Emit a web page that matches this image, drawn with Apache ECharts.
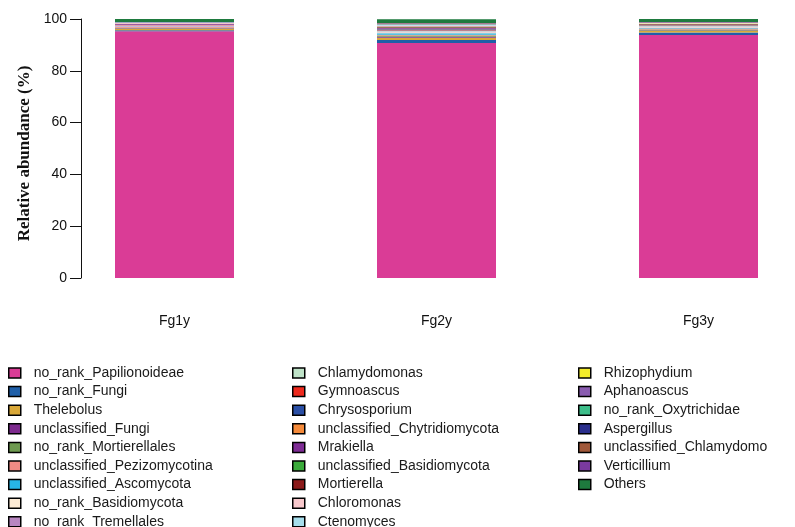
<!DOCTYPE html>
<html>
<head>
<meta charset="utf-8">
<script src="https://cdn.jsdelivr.net/npm/echarts@6/dist/echarts.min.js"></script>
<style>html,body{margin:0;padding:0;background:#fff}#c{width:795px;height:527px}</style>
</head>
<body>
<div id="c"></div>
<script>
const categories = ['Fg1y', 'Fg2y', 'Fg3y'];
const yTicks = [0, 20, 40, 60, 80, 100];
const taxa = [
  'no_rank_Papilionoideae', 'no_rank_Fungi', 'Thelebolus', 'unclassified_Fungi',
  'no_rank_Mortierellales', 'unclassified_Pezizomycotina', 'unclassified_Ascomycota',
  'no_rank_Basidiomycota', 'no_rank_Tremellales', 'Chlamydomonas', 'Gymnoascus',
  'Chrysosporium', 'unclassified_Chytridiomycota', 'Mrakiella', 'unclassified_Basidiomycota',
  'Mortierella', 'Chloromonas', 'Ctenomyces', 'Rhizophydium', 'Aphanoascus',
  'no_rank_Oxytrichidae', 'Aspergillus', 'unclassified_Chlamydomo', 'Verticillium', 'Others'
];
const colors = [
  '#DA3C96', '#1F5FA8', '#D9A838', '#7D2A8E', '#6E9A50', '#F08A84', '#27B5E5',
  '#FCEBD5', '#B886C0', '#BFE3C8', '#EE2A1E', '#2A4FA5', '#F58A3A', '#7E2C94',
  '#3AAA3A', '#8B1A1A', '#F8C8CC', '#A6DDEB', '#F2EB2A', '#8A5CB0', '#3DBE8A',
  '#2A2E8C', '#A0583A', '#7A3AA0', '#1E7A3E'
];
// values per taxon, in category order (Fg1y, Fg2y, Fg3y), percent
const valFg1y = [95.3, 0.4, 0.5, 0.25, 0.15, 0.3, 0.1, 0.15, 0.35, 0.1, 0.05, 0.05, 0.05, 0.3, 0.05, 0.1, 0.25, 0.1, 0.02, 0.08, 0.05, 0.03, 0.03, 0.1, 1.14];
const valFg2y = [90.7, 1.2, 0.9, 0.3, 0.5, 0.3, 0.6, 0.4, 0.3, 0.3, 0.2, 0.3, 0.2, 0.3, 0.2, 0.4, 0.3, 0.3, 0.1, 0.2, 0.1, 0.1, 0.2, 0.1, 1.4];
const valFg3y = [93.8, 1.0, 0.6, 0.2, 0.3, 0.4, 0.2, 0.3, 0.3, 0.2, 0.1, 0.2, 0.1, 0.1, 0.1, 0.2, 0.2, 0.1, 0.05, 0.1, 0.05, 0.05, 0.1, 0.05, 1.2];

const legendCols = [taxa.slice(0, 9), taxa.slice(9, 18), taxa.slice(18)];
const legendLefts = [8, 292, 578];

const chart = echarts.init(document.getElementById('c'), null, {renderer: 'canvas'});
const series = taxa.map((name, i) => ({
  name: name,
  type: 'bar',
  stack: 'total',
  barWidth: 119,
  itemStyle: {color: colors[i]},
  emphasis: {disabled: true},
  data: [valFg1y[i], valFg2y[i], valFg3y[i]]
}));

chart.setOption({
  animation: false,
  backgroundColor: '#fff',
  grid: {left: 43.5, top: 19, width: 786, bottom: 249, containLabel: false, outerBoundsMode: 'none'},
  xAxis: {
    type: 'category',
    data: categories,
    axisLine: {show: false},
    axisTick: {show: false},
    axisLabel: {margin: 36, fontSize: 14, color: '#111', fontFamily: 'Liberation Sans'}
  },
  yAxis: {
    type: 'value',
    min: 0, max: 100, interval: 20,
    offset: -37.5,
    name: 'Relative abundance (%)',
    nameLocation: 'middle',
    nameGap: 31,
    nameTextStyle: {fontFamily: 'Liberation Serif', fontWeight: 'bold', fontSize: 17, color: '#111', padding: [10, 10, 0, 0]},
    axisLine: {show: true, lineStyle: {color: '#111', width: 1}},
    axisTick: {show: true, length: 11, lineStyle: {color: '#111', width: 1}},
    axisLabel: {margin: 14, fontSize: 14, color: '#111', fontFamily: 'Liberation Sans',
      formatter: v => yTicks.includes(v) ? String(v) : ''},
    splitLine: {show: false}
  },
  legend: legendCols.map((col, k) => ({
    data: col,
    orient: 'vertical',
    left: legendLefts[k],
    top: 366,
    height: 400,
    padding: 0,
    itemWidth: 12,
    itemHeight: 10,
    itemGap: 4.6,
    icon: 'rect',
    selectedMode: false,
    itemStyle: {borderColor: '#000', borderWidth: 1.5},
    textStyle: {fontSize: 14, lineHeight: 14, color: '#1a1a1a', fontFamily: 'Liberation Sans', padding: [0, 0, 0, 8]}
  })),
  series: series
});
</script>
</body>
</html>
